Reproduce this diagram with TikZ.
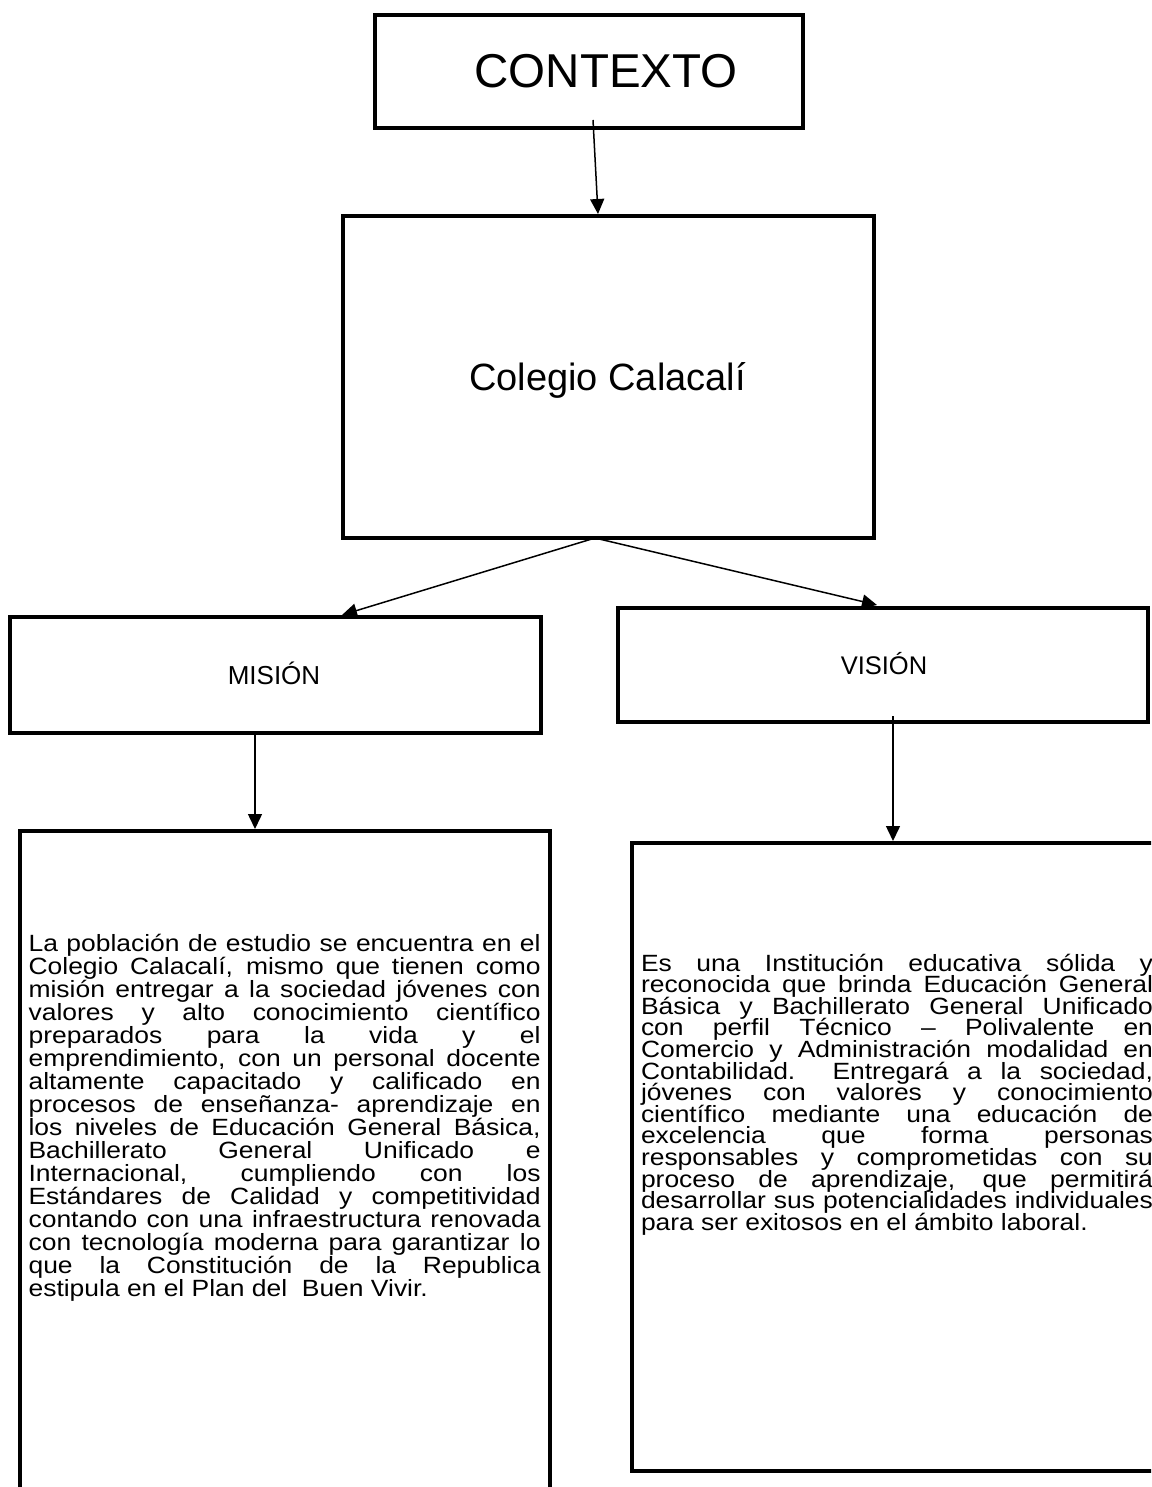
\documentclass[tikz,border=0pt]{standalone}
\usepackage{fontspec}
\setmainfont{Liberation Sans}
\newfontfamily\bodyfont[FakeStretch=1.125]{Liberation Sans}
\usetikzlibrary{arrows.meta}
\newlength{\tw}\setlength{\tw}{512pt}
\newcommand{\jl}[1]{\makebox[\tw][s]{#1}\\}
\begin{document}
\begin{tikzpicture}[x=1pt,y=-1pt,
  box/.style={draw, line width=4.5pt, rectangle, outer sep=0pt, inner sep=0pt},
  arr/.style={line width=1.5pt, -{Triangle[length=15pt,width=14pt]}},
  txt/.style={inner sep=0pt, outer sep=0pt}]
\useasboundingbox (0,0) rectangle (1151,1487);
\fill[white] (0,0) rectangle (1151,1487);
\clip (0,0) rectangle (1151,1487);
% boxes
\node[box, minimum width=428pt, minimum height=113pt] (ctx) at (589,71.5) {};
\node[box, minimum width=531pt, minimum height=322pt] (col) at (608.5,377) {};
\node[box, minimum width=531pt, minimum height=116pt] (mis) at (275.5,675) {};
\node[box, minimum width=530pt, minimum height=114pt] (vis) at (883,665) {};
\node[box, minimum width=530pt, minimum height=689pt] (mtx) at (285,1175.5) {};
\node[box, minimum width=530pt, minimum height=628pt] (vtx) at (897,1157) {};
% titles
\node[txt, anchor=base, font=\fontsize{47.5}{50}\selectfont] (ctxt) at (606,88) {CONTEXTO};
\node[txt, anchor=base, font=\fontsize{38}{40}\selectfont] (colt) at (607.5,390) {Colegio Calacalí};
\node[txt, anchor=base, font=\fontsize{26}{28}\selectfont] (mist) at (274,684) {MISIÓN};
\node[txt, anchor=base, font=\fontsize{25.5}{28}\selectfont] (vist) at (884,674) {VISIÓN};
% body texts
\node[txt, anchor=base west] (mbody) at (28.6,951) {\begin{minipage}[t]{\tw}\bodyfont\fontsize{23.5}{23}\selectfont\lineskiplimit=-100pt
\jl{La población de estudio se encuentra en el}
\jl{Colegio Calacalí, mismo que tienen como}
\jl{misión entregar a la sociedad jóvenes con}
\jl{valores y alto conocimiento científico}
\jl{preparados para la vida y el}
\jl{emprendimiento, con un personal docente}
\jl{altamente capacitado y calificado en}
\jl{procesos de enseñanza- aprendizaje en}
\jl{los niveles de Educación General Básica,}
\jl{Bachillerato General Unificado e}
\jl{Internacional, cumpliendo con los}
\jl{Estándares de Calidad y competitividad}
\jl{contando con una infraestructura renovada}
\jl{con tecnología moderna para garantizar lo}
\jl{que la Constitución de la Republica}
estipula en el Plan del\ \ Buen Vivir.
\end{minipage}};
\node[txt, anchor=base west] (vbody) at (641,971) {\begin{minipage}[t]{\tw}\bodyfont\fontsize{23.5}{21.6}\selectfont\lineskiplimit=-100pt
\jl{Es una Institución educativa sólida y}
\jl{reconocida que brinda Educación General}
\jl{Básica y Bachillerato General Unificado}
\jl{con perfil Técnico – Polivalente en}
\jl{Comercio y Administración modalidad en}
\jl{Contabilidad.\ \ Entregará a la sociedad,}
\jl{jóvenes con valores y conocimiento}
\jl{científico mediante una educación de}
\jl{excelencia que forma personas}
\jl{responsables y comprometidas con su}
\jl{proceso de aprendizaje, que permitirá}
\jl{desarrollar sus potencialidades individuales}
para ser exitosos en el ámbito laboral.
\end{minipage}};
% connectors
\draw[arr] ([xshift=4pt,yshift=8pt]ctx.south) -- ([xshift=-10.5pt,yshift=2pt]col.north);
\draw[arr] ([xshift=-13.5pt]col.south) -- ([xshift=66.5pt,yshift=2pt]mis.north);
\draw[arr] ([xshift=-13.5pt]col.south) -- ([xshift=-6pt,yshift=3pt]vis.north);
\draw[arr] ([xshift=-20.5pt]mis.south) -- ([xshift=-30pt,yshift=2pt]mtx.north);
\draw[arr] ([xshift=10pt,yshift=6pt]vis.south) -- ([xshift=-4pt,yshift=2pt]vtx.north);
\end{tikzpicture}
\end{document}
